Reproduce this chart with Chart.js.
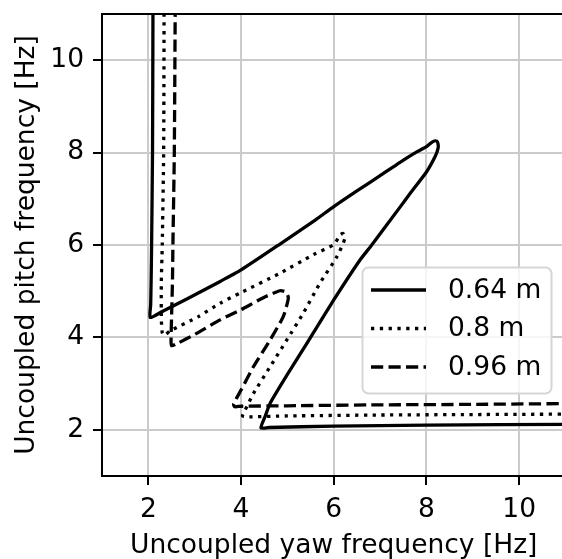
<!DOCTYPE html>
<html>
<head>
<meta charset="utf-8">
<script src="https://cdn.jsdelivr.net/npm/chart.js@4.4.1/dist/chart.umd.min.js"></script>
<style>
html, body { margin: 0; padding: 0; background: #fff; overflow: hidden; }
#wrap { width: 562px; height: 559px; overflow: hidden; }
</style>
</head>
<body>
<div id="wrap"><canvas id="freqChart" width="570" height="559"></canvas></div>
<script>
// values
var labels = ['0.64 m', '0.8 m', '0.96 m'];
var xTicks = [2, 4, 6, 8, 10];
var yTicks = [2, 4, 6, 8, 10];

var yaw064   = [2.10, 2.09, 2.07, 2.06, 2.05, 2.04, 2.30, 2.83, 3.55, 4.00, 4.84, 5.60, 6.00, 6.50, 7.00, 7.43, 7.80, 8.00, 8.10, 8.17, 8.22, 8.25, 8.25, 8.19, 8.00, 7.65, 7.43, 6.82, 6.57, 6.00, 5.42, 5.00, 4.63, 4.52, 4.43, 4.60, 6.00, 8.00, 11.2];
var pitch064 = [11.2, 8.00, 6.00, 5.24, 4.70, 4.43, 4.56, 4.83, 5.21, 5.46, 6.02, 6.54, 6.83, 7.17, 7.50, 7.79, 8.02, 8.13, 8.21, 8.25, 8.25, 8.19, 8.09, 7.92, 7.58, 7.12, 6.82, 6.00, 5.68, 4.81, 3.87, 3.20, 2.58, 2.29, 2.04, 2.05, 2.08, 2.10, 2.12];

var yaw080   = [2.34, 2.33, 2.30, 2.28, 2.28, 2.30, 2.34, 2.47, 3.08, 3.55, 4.00, 4.84, 5.56, 6.00, 6.14, 6.20, 6.24, 6.07, 5.70, 5.34, 4.99, 4.63, 4.27, 4.09, 4.03, 4.10, 5.00, 7.00, 9.00, 11.2];
var pitch080 = [11.2, 8.00, 6.00, 5.20, 4.40, 4.10, 4.04, 4.14, 4.45, 4.74, 4.97, 5.39, 5.79, 6.01, 6.22, 6.25, 6.14, 5.75, 5.17, 4.52, 3.95, 3.37, 2.79, 2.43, 2.30, 2.28, 2.30, 2.32, 2.33, 2.34];

var yaw096   = [2.58, 2.56, 2.53, 2.52, 2.50, 2.49, 2.50, 2.61, 3.01, 3.55, 4.00, 4.48, 4.84, 4.97, 5.02, 4.91, 4.63, 4.27, 4.00, 3.84, 3.86, 4.00, 5.00, 7.00, 9.00, 11.2];
var pitch096 = [11.2, 8.00, 6.00, 5.20, 4.40, 3.95, 3.82, 3.86, 4.07, 4.38, 4.60, 4.86, 5.01, 4.98, 4.85, 4.45, 3.95, 3.37, 2.86, 2.56, 2.50, 2.51, 2.52, 2.54, 2.55, 2.57];

function toPoints(xs, ys) {
  var pts = [];
  for (var i = 0; i < xs.length; i++) pts.push({x: xs[i], y: ys[i]});
  return pts;
}

var lineW = 3.3;
var fontPx = 26.5;
function series(label, xs, ys, dash) {
  return {
    label: label,
    data: toPoints(xs, ys),
    showLine: true,
    borderColor: '#000',
    borderWidth: lineW,
    borderDash: dash,
    borderCapStyle: 'butt',
    borderJoinStyle: 'round',
    pointRadius: 0,
    fill: false,
    tension: 0.2,
    clip: 0
  };
}

Chart.defaults.font.family = "'DejaVu Sans', sans-serif";
Chart.defaults.color = '#000';

// top/right spines, drawn over the curves like matplotlib does
var frame = {
  id: 'frame',
  afterDatasetsDraw: function(chart) {
    var a = chart.chartArea, ctx = chart.ctx;
    ctx.save();
    ctx.strokeStyle = '#000';
    ctx.lineWidth = 2;
    ctx.strokeRect(a.left, a.top, a.right - a.left, a.bottom - a.top);
    ctx.restore();
  }
};

// matplotlib style legend inside the axes
var boxLegend = {
  id: 'boxLegend',
  afterDraw: function(chart) {
    var ctx = chart.ctx;
    var x0 = 362.5, y0 = 267.5, w = 189, h = 126;
    ctx.save();
    ctx.beginPath();
    ctx.roundRect(x0, y0, w, h, 6);
    ctx.fillStyle = 'rgba(255,255,255,0.8)';
    ctx.fill();
    ctx.strokeStyle = '#d6d6d6';
    ctx.lineWidth = 2;
    ctx.stroke();
    ctx.font = fontPx + "px 'DejaVu Sans'";
    ctx.textBaseline = 'middle';
    ctx.fillStyle = '#000';
    chart.data.datasets.forEach(function(ds, i) {
      var y = 290 + i * 38.5;
      ctx.beginPath();
      ctx.setLineDash(ds.borderDash);
      ctx.lineWidth = lineW;
      ctx.strokeStyle = '#000';
      ctx.moveTo(371, y);
      ctx.lineTo(426, y);
      ctx.stroke();
      ctx.setLineDash([]);
      ctx.fillText(ds.label, 448, y + 1);
    });
    ctx.restore();
  }
};

var ctx = document.getElementById('freqChart').getContext('2d');
var freqChart = new Chart(ctx, {
  type: 'scatter',
  data: {
    datasets: [
      series(labels[0], yaw064, pitch064, []),
      series(labels[1], yaw080, pitch080, [3.3, 5.5]),
      series(labels[2], yaw096, pitch096, [12.2, 5.3])
    ]
  },
  options: {
    responsive: false,
    animation: false,
    layout: { padding: { left: 0, top: 14, right: 4.5, bottom: 0 } },
    plugins: { legend: { display: false }, tooltip: { enabled: false } },
    scales: {
      x: {
        type: 'linear', min: 1, max: 11,
        afterBuildTicks: function(s) { s.ticks = xTicks.map(function(v) { return {value: v}; }); },
        afterFit: function(s) { s.height = 83; s.paddingLeft = 0; s.paddingRight = 0; },
        grid: { color: '#cbcbcb', lineWidth: 2, tickColor: '#000', tickLength: 9, tickWidth: 2 },
        border: { display: true, color: '#000', width: 2 },
        ticks: { font: { size: fontPx }, padding: 9, maxRotation: 0 },
        title: { display: true, text: 'Uncoupled yaw frequency [Hz]', font: { size: fontPx }, padding: { top: 0, bottom: -3 } }
      },
      y: {
        type: 'linear', min: 1, max: 11,
        afterBuildTicks: function(s) { s.ticks = yTicks.map(function(v) { return {value: v}; }); },
        afterFit: function(s) { s.width = 102; s.paddingTop = 0; s.paddingBottom = 0; },
        grid: { color: '#cbcbcb', lineWidth: 2, tickColor: '#000', tickLength: 9, tickWidth: 2 },
        border: { display: true, color: '#000', width: 2 },
        ticks: { font: { size: fontPx }, padding: 9 },
        title: { display: true, text: 'Uncoupled pitch frequency [Hz]', font: { size: fontPx }, padding: { top: 11, bottom: 0 } }
      }
    }
  },
  plugins: [frame, boxLegend]
});
</script>
</body>
</html>
